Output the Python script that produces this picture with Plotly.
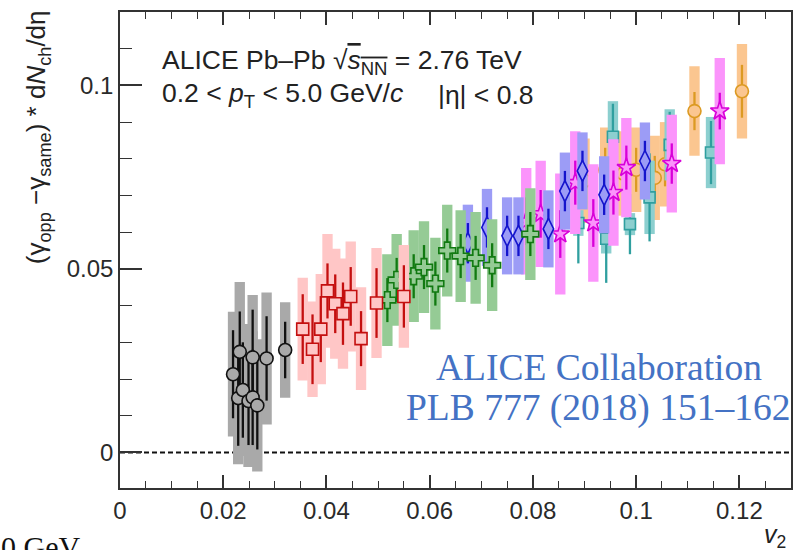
import plotly.graph_objects as go

# Charge-dependent correlator scaled by dN_ch/deta versus v2,
# one series per centrality class (ESE-selected bins)

# 0-5%
c0_v2 = [0.0219, 0.0229, 0.0232, 0.0238, 0.0249, 0.0257, 0.0257, 0.0266, 0.0284, 0.0320]
c0_y = [0.0213, 0.0148, 0.0274, 0.0170, 0.0140, 0.0150, 0.0259, 0.0128, 0.0256, 0.0279]
c0_stat = [0.012, 0.013, 0.011, 0.013, 0.012, 0.013, 0.013, 0.012, 0.0115, 0.0077]
c0_syst = [0.017, 0.018, 0.019, 0.018, 0.018, 0.018, 0.017, 0.018, 0.018, 0.013]

# 5-10%
c1_v2 = [0.0354, 0.0373, 0.0389, 0.0402, 0.0417, 0.0432, 0.0447, 0.0467, 0.0497, 0.0550]
c1_y = [0.0336, 0.0281, 0.0336, 0.0440, 0.0405, 0.0378, 0.0425, 0.0310, 0.0407, 0.0425]
c1_stat = [0.0095, 0.0095, 0.009, 0.0075, 0.008, 0.0085, 0.008, 0.0075, 0.0095, 0.0085]
c1_syst = [0.014, 0.013, 0.015, 0.0155, 0.015, 0.015, 0.015, 0.014, 0.015, 0.014]

# 10-20%
c2_v2 = [0.0518, 0.0536, 0.0569, 0.0589, 0.0611, 0.0634, 0.0660, 0.0689, 0.0721, 0.0795]
c2_y = [0.0415, 0.0470, 0.0480, 0.0505, 0.0460, 0.0550, 0.0535, 0.0530, 0.0510, 0.0595]
c2_stat = [0.006, 0.006, 0.006, 0.006, 0.006, 0.006, 0.006, 0.006, 0.006, 0.006]
c2_syst = [0.0125, 0.0125, 0.0125, 0.0125, 0.0125, 0.0125, 0.0125, 0.0125, 0.0125, 0.0125]

# 20-30%
c3_v2 = [0.0674, 0.0711, 0.0750, 0.0772, 0.0830, 0.0862, 0.0896, 0.0938, 0.1017]
c3_y = [0.0570, 0.0613, 0.0590, 0.0590, 0.0609, 0.0712, 0.0767, 0.0702, 0.0794]
c3_stat = [0.0055, 0.0055, 0.0055, 0.0055, 0.0055, 0.0055, 0.0055, 0.0055, 0.0055]
c3_syst = [0.0105, 0.0105, 0.0105, 0.0105, 0.0105, 0.0105, 0.0105, 0.0105, 0.0105]

# 30-40%
c4_v2 = [0.0787, 0.0815, 0.0853, 0.0882, 0.0917, 0.0956, 0.0981, 0.1069, 0.1162]
c4_y = [0.0630, 0.0650, 0.0595, 0.0735, 0.0625, 0.0708, 0.0776, 0.0787, 0.0930]
c4_stat = [0.0065, 0.0065, 0.0065, 0.006, 0.0065, 0.006, 0.006, 0.0055, 0.005]
c4_syst = [0.0145, 0.0145, 0.0165, 0.014, 0.016, 0.0145, 0.0135, 0.0133, 0.0145]

# 40-50%
c5_v2 = [0.0888, 0.0942, 0.0955, 0.0988, 0.1026, 0.1065, 0.1145]
c5_y = [0.0625, 0.0582, 0.0860, 0.0622, 0.0695, 0.0838, 0.0817]
c5_stat = [0.011, 0.012, 0.009, 0.0082, 0.012, 0.009, 0.0086]
c5_syst = [0.0035, 0.004, 0.0097, 0.003, 0.010, 0.0097, 0.0097]

# 50-60%
c6_v2 = [0.0900, 0.0940, 0.0975, 0.1000, 0.1036, 0.1056, 0.1113, 0.1205]
c6_y = [0.0740, 0.0770, 0.0760, 0.0770, 0.0748, 0.0785, 0.0930, 0.0984]
c6_stat = [0.006, 0.006, 0.006, 0.006, 0.006, 0.006, 0.0052, 0.0072]
c6_syst = [0.0115, 0.0115, 0.0115, 0.0115, 0.0115, 0.0115, 0.0122, 0.0129]

x_ticks = [0, 0.02, 0.04, 0.06, 0.08, 0.1, 0.12]
x_ticktext = ["0", "0.02", "0.04", "0.06", "0.08", "0.1", "0.12"]
y_ticks = [0, 0.05, 0.1]
y_ticktext = ["0", "0.05", "0.1"]

W, H = 800, 550
ML, MR, MT, MB = 120, 7, 12, 62
X_RANGE = [0, 0.13]
Y_RANGE = [-0.0097, 0.12]
BOX_HALF_V2 = 0.001  # half-width of systematic boxes in v2 units
BOX_PX = 2 * BOX_HALF_V2 * (W - ML - MR) / (X_RANGE[1] - X_RANGE[0])


def px_x(p):
    return (p - ML) / (W - ML - MR)


def px_y(p):
    return (H - MB - p) / (H - MT - MB)


# drawing order: peripheral first, central last (central on top)
series = [
    dict(v2=c6_v2, y=c6_y, stat=c6_stat, syst=c6_syst, sym="circle", size=13,
         col="#dc9a22", box="#fbc690"),
    dict(v2=c5_v2, y=c5_y, stat=c5_stat, syst=c5_syst, sym="square", size=11,
         col="#2f9f9f", box="#8ccfcf"),
    dict(v2=c4_v2, y=c4_y, stat=c4_stat, syst=c4_syst, sym="star", size=14,
         col="#d800d8", box="#fb94fb"),
    dict(v2=c3_v2, y=c3_y, stat=c3_stat, syst=c3_syst, sym="diamond-tall", size=15,
         col="#1414cc", box="#9c9cf6"),
    dict(v2=c2_v2, y=c2_y, stat=c2_stat, syst=c2_syst, sym="cross", size=14,
         col="#117a11", box="#95cb95"),
    dict(v2=c1_v2, y=c1_y, stat=c1_stat, syst=c1_syst, sym="square", size=12,
         col="#c40f0f", box="#ffc6c6"),
    dict(v2=c0_v2, y=c0_y, stat=c0_stat, syst=c0_syst, sym="circle", size=13,
         col="#111111", box="#a9a9a9"),
]

fig = go.Figure()

for s in series:
    # systematic uncertainty boxes
    fig.add_trace(go.Scatter(
        x=s["v2"], y=s["y"], mode="markers",
        marker=dict(size=1, opacity=0),
        error_y=dict(type="data", array=s["syst"], color=s["box"],
                     thickness=BOX_PX, width=0),
        hoverinfo="skip", showlegend=False,
    ))
    # points with statistical uncertainties
    fig.add_trace(go.Scatter(
        x=s["v2"], y=s["y"], mode="markers",
        marker=dict(symbol=s["sym"], size=s["size"], color=s["box"],
                    line=dict(color=s["col"], width=1.6)),
        error_y=dict(type="data", array=s["stat"], color=s["col"],
                     thickness=2.3, width=0),
        showlegend=False,
    ))

fig.add_shape(type="line", xref="paper", x0=0, x1=1, yref="y", y0=0, y1=0,
              line=dict(color="#111111", width=2, dash="5px,3px"), layer="between")

axis_font = dict(family="Liberation Sans, Arial, sans-serif", size=24, color="#2a2a2a")

fig.update_xaxes(
    range=X_RANGE, tickvals=x_ticks, ticktext=x_ticktext,
    ticks="inside", ticklen=13, tickwidth=1.5, tickcolor="#333333",
    minor=dict(dtick=0.005, ticks="inside", ticklen=7, tickwidth=1.3, tickcolor="#333333"),
    showline=True, linecolor="#333333", linewidth=1.6, mirror="ticks",
    showgrid=False, zeroline=False, tickfont=axis_font,
)
fig.update_yaxes(
    range=Y_RANGE, tickvals=y_ticks, ticktext=y_ticktext,
    ticks="inside", ticklen=22, tickwidth=1.5, tickcolor="#333333",
    minor=dict(dtick=0.01, ticks="inside", ticklen=12, tickwidth=1.3, tickcolor="#333333"),
    showline=True, linecolor="#333333", linewidth=1.6, mirror=True,
    showgrid=False, zeroline=False, tickfont=axis_font,
)

sans = "Liberation Sans, Arial, sans-serif"
serif = "Liberation Serif, Times New Roman, serif"
blue = "#4472c4"

annotations = [
    dict(text="ALICE Pb\u2013Pb \u221a<span style='text-decoration:overline'><i>s</i><sub>NN</sub></span> = 2.76 TeV",
         x=px_x(160), y=px_y(62), xanchor="left", yanchor="middle",
         font=dict(family=sans, size=26.5, color="#222222")),
    dict(text="0.2 &lt; <i>p</i><sub>T</sub> &lt; 5.0 GeV/<i>c</i>",
         x=px_x(160), y=px_y(95), xanchor="left", yanchor="middle",
         font=dict(family=sans, size=26.5, color="#222222")),
    dict(text="|\u03b7| &lt; 0.8",
         x=px_x(437), y=px_y(95), xanchor="left", yanchor="middle",
         font=dict(family=sans, size=26.5, color="#222222")),
    dict(text="ALICE Collaboration",
         x=px_x(600), y=px_y(367), xanchor="center", yanchor="middle",
         font=dict(family=serif, size=37.5, color=blue)),
    dict(text="PLB 777 (2018) 151\u2013162",
         x=px_x(599), y=px_y(408), xanchor="center", yanchor="middle",
         font=dict(family=serif, size=37.5, color=blue)),
    dict(text="(\u03b3<sub>opp</sub> \u2212\u03b3<sub>same</sub>) * d<i>N</i><sub>ch</sub>/d\u03b7",
         x=px_x(37), y=px_y(8), xanchor="center", yanchor="top", textangle=-90,
         font=dict(family=sans, size=26, color="#222222")),
    dict(text="<i>v</i><sub>2</sub>",
         x=px_x(790), y=px_y(536), xanchor="right", yanchor="middle",
         font=dict(family=sans, size=25, color="#222222")),
    dict(text="0 GeV",
         x=px_x(-1), y=px_y(528), xanchor="left", yanchor="top",
         font=dict(family=serif, size=30, color="#111111")),
]
for a in annotations:
    a.update(xref="paper", yref="paper", showarrow=False)

fig.update_layout(
    width=W, height=H,
    margin=dict(l=ML, r=MR, t=MT, b=MB),
    paper_bgcolor="white", plot_bgcolor="white",
    showlegend=False,
    annotations=annotations,
)

fig.write_html("out.html")
